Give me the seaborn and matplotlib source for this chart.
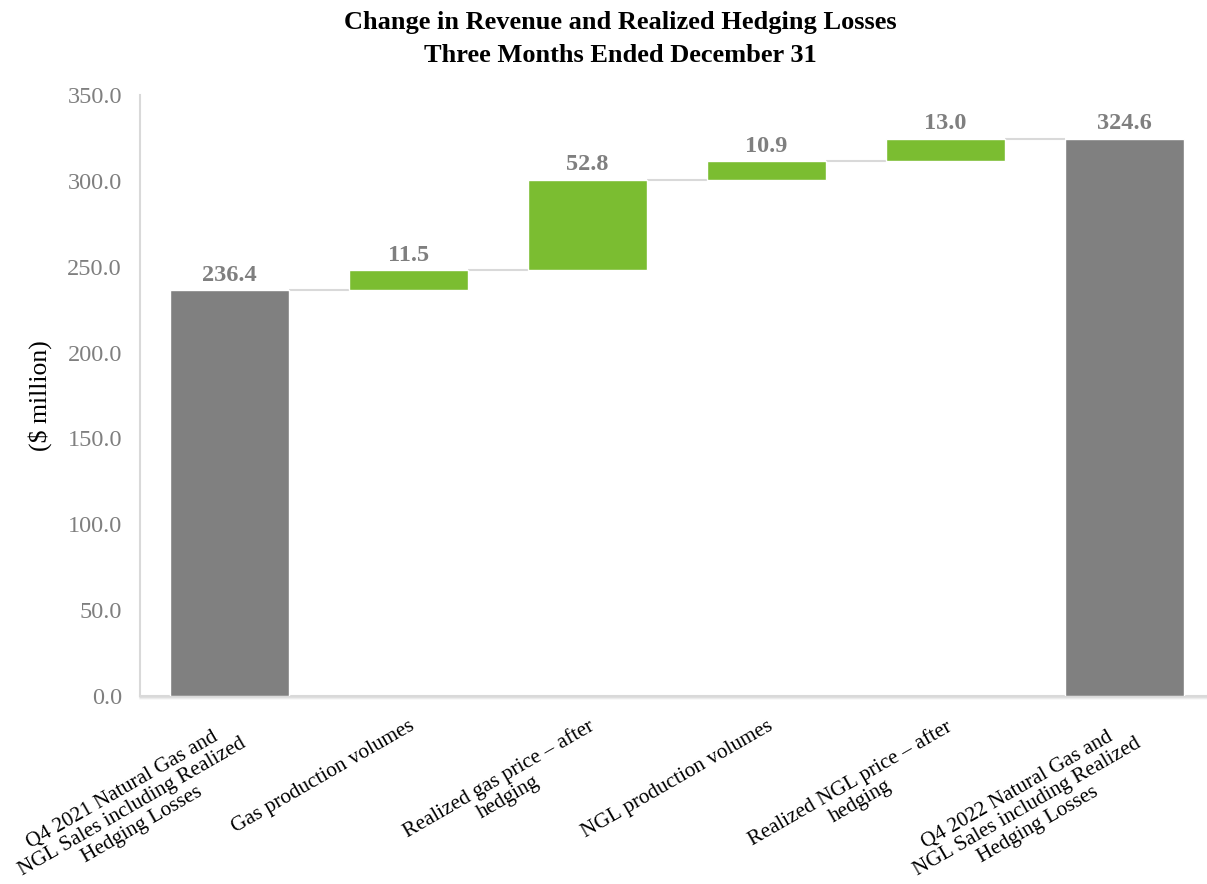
import numpy as np
import pandas as pd
import matplotlib
matplotlib.use("Agg")
import matplotlib.pyplot as plt
import matplotlib.transforms as mtransforms
import seaborn as sns

# ---- data ----
categories = [
    "Q4 2021 Natural Gas and\nNGL Sales including Realized\nHedging Losses",
    "Gas production volumes",
    "Realized gas price – after\nhedging",
    "NGL production volumes",
    "Realized NGL price – after\nhedging",
    "Q4 2022 Natural Gas and\nNGL Sales including Realized\nHedging Losses",
]
start_total = 236.4
deltas = [11.5, 52.8, 10.9, 13.0]
end_total = 324.6
y_ticks = [0, 50, 100, 150, 200, 250, 300, 350]

# derived running totals
running = start_total + np.concatenate([[0.0], np.cumsum(deltas)])
delta_bottoms = running[:-1]

sns.set_theme(style="white")
plt.rcParams["font.family"] = ["Liberation Serif", "DejaVu Serif"]

GRAY = "#808080"
GREEN = "#7BBD31"
LINE = "#D9D9D9"
TXT = "#7F7F7F"

fig = plt.figure(figsize=(12.07, 8.84), dpi=100)
ax = fig.add_axes([140 / 1207, 1 - 696 / 884, 1 - 140 / 1207, (696 - 95) / 884])

tot_df = pd.DataFrame({"cat": [categories[0], categories[-1]],
                       "val": [start_total, end_total]})
dlt_df = pd.DataFrame({"cat": categories[1:-1], "val": deltas})

bw = 0.665
sns.barplot(data=tot_df, x="cat", y="val", order=categories, color=GRAY,
            saturation=1, width=bw, ax=ax, zorder=3)
sns.barplot(data=dlt_df, x="cat", y="val", order=categories, color=GREEN,
            saturation=1, width=bw, ax=ax, bottom=delta_bottoms, zorder=3)

# connectors
for i, lvl in enumerate(running):
    ax.hlines(lvl, i + bw / 2, i + 1 - bw / 2, color=LINE, lw=1.5, zorder=2)

# value labels
lab_kw = dict(padding=3, fontsize=17.5, fontweight="bold", color=TXT)
ax.bar_label(ax.containers[0], labels=[f"{start_total:.1f}", f"{end_total:.1f}"], **lab_kw)
ax.bar_label(ax.containers[1], labels=[f"{d:.1f}" for d in deltas], **lab_kw)

ax.set_ylim(0, 350)
ax.set_xlim(-0.5, 5.46)
ax.set_yticks(y_ticks)
ax.set_yticklabels([f"{v:.1f}" for v in y_ticks])
ax.tick_params(axis="y", length=0, pad=13, labelsize=17.5, labelcolor=TXT)
ax.tick_params(axis="x", length=0, pad=15, labelsize=15.3, labelcolor="black")
ax.set_xticks(range(len(categories)))
ax.set_xticklabels(categories, rotation=30, ha="right", va="top",
                   rotation_mode="anchor", multialignment="center",
                   linespacing=1.1)
ax.set_xlabel("")
ax.set_ylabel("($ million)", fontsize=18.5, color="black", labelpad=11)

for s in ["top", "right"]:
    ax.spines[s].set_visible(False)
ax.spines["left"].set_color(LINE)
ax.spines["left"].set_linewidth(1.5)
ax.spines["bottom"].set_color(LINE)
ax.spines["bottom"].set_linewidth(1.5)
ax.spines["left"].set_zorder(1)

# soft shadow under x axis
for k, a in enumerate([0.5, 0.3, 0.15]):
    off = mtransforms.offset_copy(ax.transAxes, fig=fig, x=0, y=-(k + 1.2), units="dots")
    ax.plot([0, 1], [0, 0], transform=off, color="#C8C8C8", alpha=a, lw=1.2,
            clip_on=False, zorder=1)

fig.text(620 / 1207, 1 - 23 / 884, "Change in Revenue and Realized Hedging Losses",
         ha="center", va="center", fontsize=19, fontweight="bold", color="black")
fig.text(620 / 1207, 1 - 56 / 884, "Three Months Ended December 31",
         ha="center", va="center", fontsize=19, fontweight="bold", color="black")

fig.savefig("out.png", dpi=100, facecolor="white")
